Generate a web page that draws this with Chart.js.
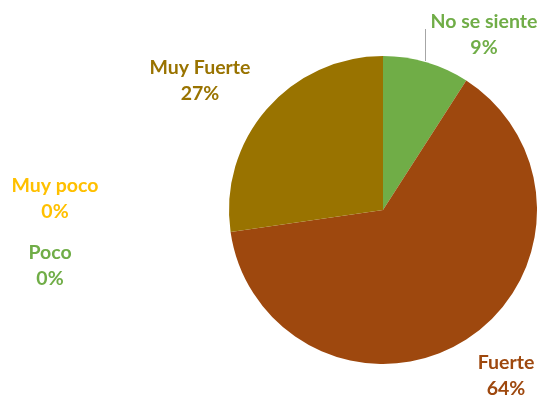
<!DOCTYPE html>
<html><head><meta charset="utf-8">
<script src="https://cdn.jsdelivr.net/npm/chart.js@4"></script>
<style>html,body{margin:0;padding:0;background:#fff;}canvas{display:block;}</style>
</head><body>
<canvas id="c" width="541" height="396"></canvas>
<script>
const categories = ["No se siente", "Fuerte", "Poco", "Muy poco", "Muy Fuerte"];
const values = [1, 7, 0, 0, 3];
const percentLabels = ["9%", "64%", "0%", "0%", "27%"];
const colors = ["#70AD47", "#9E480E", "#70AD47", "#FFC000", "#997300"];

const labelPlugin = {
  id: 'pieLabels',
  afterDraw(chart, args, opts) {
    const ctx = chart.ctx;
    ctx.save();
    ctx.font = 'bold 19.5px Lato, "Open Sans", sans-serif';
    ctx.textAlign = 'center';
    ctx.textBaseline = 'middle';
    // leader line for the small slice
    ctx.strokeStyle = '#A6A6A6';
    ctx.lineWidth = 1;
    ctx.beginPath();
    ctx.moveTo(425.5, 29);
    ctx.lineTo(425.5, 61);
    ctx.stroke();
    opts.anchors.forEach((p, i) => {
      ctx.fillStyle = colors[i];
      ctx.fillText(categories[i], p[0], p[1]);
      ctx.fillText(percentLabels[i], p[0], p[1] + 26);
    });
    ctx.restore();
  }
};

new Chart(document.getElementById('c'), {
  type: 'pie',
  data: {
    labels: categories,
    datasets: [{
      data: values,
      backgroundColor: colors,
      borderWidth: 0
    }]
  },
  options: {
    responsive: false,
    animation: false,
    layout: { padding: { left: 229, right: 4, top: 56, bottom: 32 } },
    plugins: {
      legend: { display: false },
      tooltip: { enabled: false },
      pieLabels: {
        anchors: [[484, 22], [506, 363], [50, 253], [55, 186], [200, 68]]
      }
    }
  },
  plugins: [labelPlugin]
});
</script>
</body></html>
